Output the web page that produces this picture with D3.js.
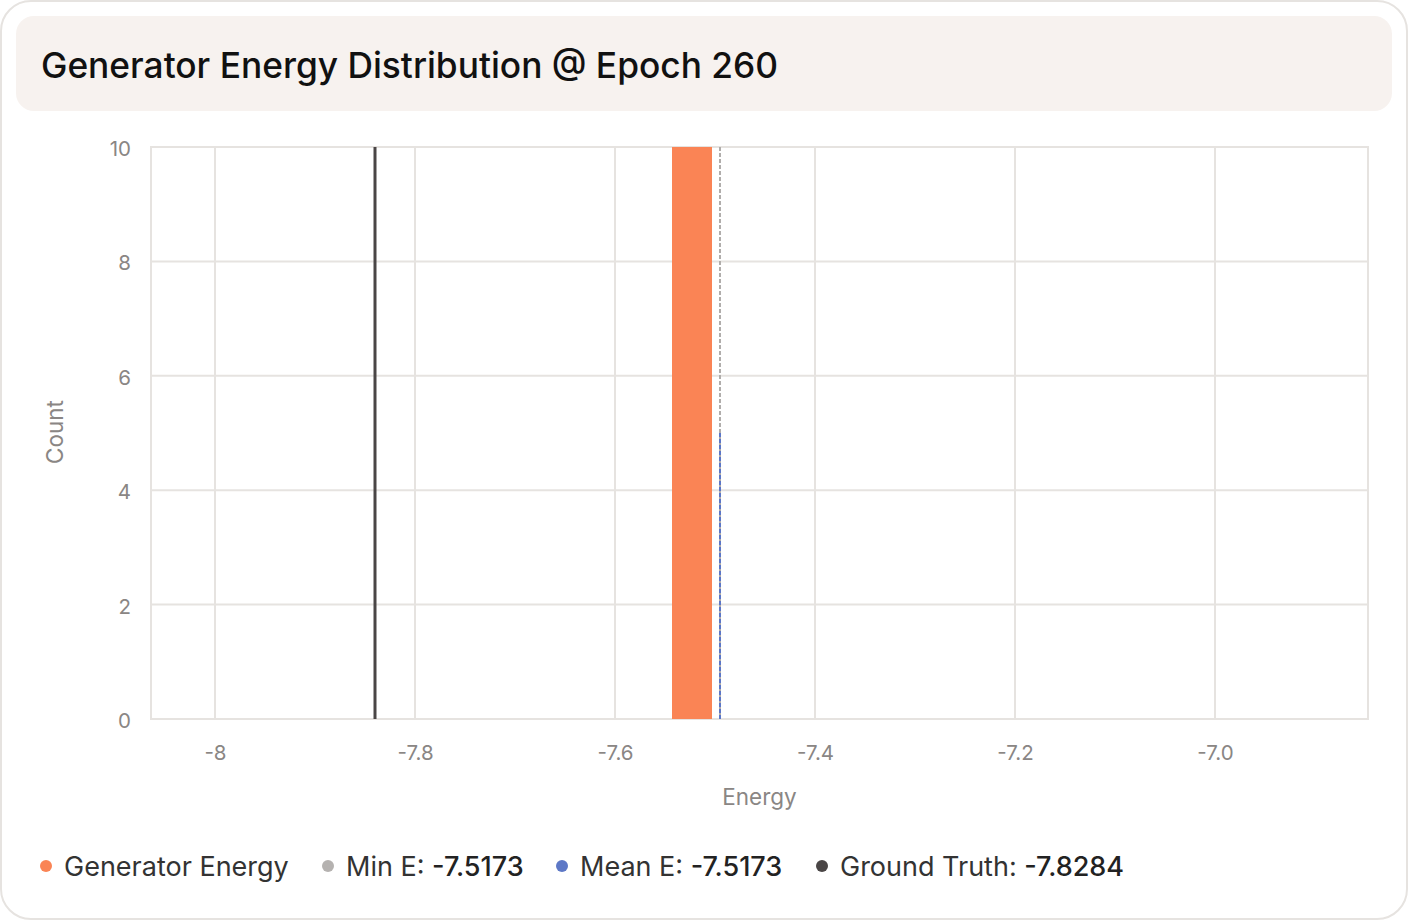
<!DOCTYPE html>
<html><head><meta charset="utf-8">
<script src="https://cdn.jsdelivr.net/npm/d3@7"></script>
<style>
html,body{margin:0;padding:0;background:#fff;}
svg{display:block;font-family:Inter, "Noto Sans", sans-serif;}
</style></head>
<body><svg id="c" width="1408" height="920"></svg>
<script>
// ---- data ----
const chartTitle = "Generator Energy Distribution @ Epoch 260";
const binStarts = [-7.543];
const binEnds = [-7.503];
const binCounts = [10];
const xTickValues = [-8, -7.8, -7.6, -7.4, -7.2, -7.0];
const xTickLabels = ["-8", "-7.8", "-7.6", "-7.4", "-7.2", "-7.0"];
const yTickValues = [0, 2, 4, 6, 8, 10];
const refNames = ["Min E", "Mean E", "Ground Truth"];
const refPositions = [-7.4955, -7.4955, -7.840];
const refTopCounts = [10, 5, 10];
const refValueLabels = ["-7.5173", "-7.5173", "-7.8284"];
const legendNames = ["Generator Energy", "Min E: ", "Mean E: ", "Ground Truth: "];
const legendValues = ["", "-7.5173", "-7.5173", "-7.8284"];
const legendColors = ["#fa8455", "#b5b2b0", "#5d78c6", "#4a4646"];

// ---- layout ----
const svg = d3.select("#c");
const W = 1408, H = 920;
const m = {left:151, right:1368, top:147, bottom:719};

svg.append("rect").attr("x",1).attr("y",1).attr("width",W-2).attr("height",H-2)
  .attr("rx",30).attr("fill","#fff").attr("stroke","#e6e3e0").attr("stroke-width",2);
svg.append("rect").attr("x",16).attr("y",16).attr("width",1376).attr("height",95)
  .attr("rx",18).attr("fill","#f7f2ef");
svg.append("text").attr("x",41).attr("y",78).attr("font-size",35.3).attr("font-weight",500)
  .attr("fill","#111").text(chartTitle);

const x = d3.scaleLinear().domain([-8.064, -6.847]).range([m.left, m.right]);
const y = d3.scaleLinear().domain([0, 10]).range([m.bottom, m.top]);
const gridColor = "#e6e3e0";

const g = svg.append("g");
// grid
g.selectAll(".hg").data(yTickValues).enter().append("line")
  .attr("x1",m.left).attr("x2",m.right).attr("y1",d=>y(d)).attr("y2",d=>y(d))
  .attr("stroke",gridColor).attr("stroke-width",2);
g.selectAll(".vg").data(xTickValues).enter().append("line")
  .attr("x1",d=>x(d)).attr("x2",d=>x(d)).attr("y1",m.top).attr("y2",m.bottom)
  .attr("stroke",gridColor).attr("stroke-width",2);
g.append("rect").attr("x",m.left).attr("y",m.top).attr("width",m.right-m.left).attr("height",m.bottom-m.top)
  .attr("fill","none").attr("stroke",gridColor).attr("stroke-width",2);

// axes
const xAxis = d3.axisBottom(x).tickValues(xTickValues).tickFormat((d,i)=>xTickLabels[i]).tickSize(0).tickPadding(26);
const xg = svg.append("g").attr("transform",`translate(0,${m.bottom})`).call(xAxis);
const yAxis = d3.axisLeft(y).tickValues(yTickValues).tickSize(0).tickPadding(20);
const yg = svg.append("g").attr("transform",`translate(${m.left},2)`).call(yAxis);
[xg,yg].forEach(a=>{
  a.select(".domain").remove();
  a.selectAll("text").attr("font-size",20.5).attr("fill","#8a8684").attr("font-family","Inter, sans-serif");
});
svg.append("text").attr("x",(m.left+m.right)/2).attr("y",805).attr("text-anchor","middle")
  .attr("font-size",22.5).attr("fill","#8a8684").text("Energy");
svg.append("text").attr("transform","translate(63,432) rotate(-90)").attr("text-anchor","middle")
  .attr("font-size",22.5).attr("fill","#8a8684").text("Count");

// bars
svg.selectAll(".bar").data(binCounts).enter().append("rect")
  .attr("x",(d,i)=>x(binStarts[i])).attr("width",(d,i)=>x(binEnds[i])-x(binStarts[i]))
  .attr("y",d=>y(d)).attr("height",d=>y(0)-y(d)).attr("fill","#fa8455");

// reference lines
const refStyles = [
  {color:"#b0adab", width:2, dash:"4,2"},
  {color:"#5b76c8", width:2, dash:"4,2"},
  {color:"#4a4646", width:3, dash:null}
];
refNames.forEach((n,i)=>{
  const px = Math.round(x(refPositions[i]));
  const l = svg.append("line").attr("x1",px).attr("x2",px)
    .attr("y1",y(refTopCounts[i])).attr("y2",y(0))
    .attr("stroke",refStyles[i].color).attr("stroke-width",refStyles[i].width);
  if(refStyles[i].dash) l.attr("stroke-dasharray",refStyles[i].dash);
});

// legend
const legendX = [46, 328, 562, 822];
legendNames.forEach((n,i)=>{
  svg.append("circle").attr("cx",legendX[i]).attr("cy",866).attr("r",6).attr("fill",legendColors[i]);
  const t = svg.append("text").attr("x",legendX[i]+18).attr("y",875.5).attr("font-size",27).attr("fill","#333");
  t.append("tspan").text(n);
  if(legendValues[i]) t.append("tspan").attr("font-weight",500).attr("fill","#222").text(legendValues[i]);
});
</script></body></html>
